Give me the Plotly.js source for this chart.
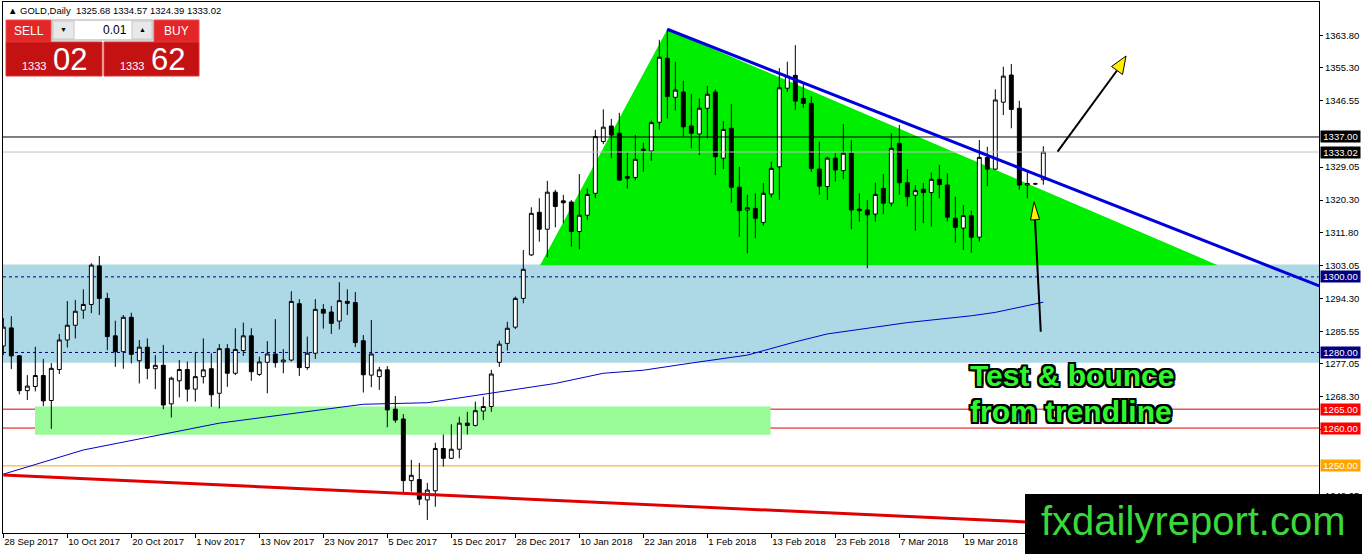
<!DOCTYPE html>
<html><head><meta charset="utf-8">
<script src="https://cdn.plot.ly/plotly-3.0.1.min.js"></script>
<style>html,body{margin:0;padding:0;background:#fff;overflow:hidden}#chart{width:1362px;height:554px}</style>
</head><body><div id="chart"></div>
<script>
// ---- GOLD, Daily candles (bar index 0 = 28 Sep 2017) ----
const openP = [1281.7,1286.5,1279.1,1269.9,1271.0,1273.9,1267.3,1275.5,1283.3,1287.2,
1291.2,1292.7,1302.9,1294.3,1284.4,1280.2,1289.3,1277.8,1281.4,1275.7,
1276.6,1266.4,1272.5,1275.5,1270.3,1273.6,1275.7,1269.2,1281.0,1274.5,
1280.5,1284.4,1274.2,1277.4,1279.6,1277.5,1278.0,1292.9,1276.0,1279.8,
1291.4,1290.7,1288.3,1293.5,1293.2,1283.1,1274.0,1273.6,1275.4,1265.0,
1262.4,1246.1,1246.4,1241.0,1243.4,1254.6,1252.0,1254.4,1261.3,1260.7,
1264.5,1265.7,1277.4,1282.4,1286.7,1294.3,1305.8,1317.1,1312.6,1322.4,
1320.1,1319.8,1312.0,1316.3,1322.1,1335.8,1339.9,1338.0,1326.5,1326.3,
1333.4,1333.3,1340.9,1357.8,1347.5,1348.9,1339.9,1337.8,1344.6,1348.9,
1331.4,1339.3,1323.7,1317.7,1318.1,1314.4,1321.9,1329.1,1349.9,1353.3,
1347.2,1345.9,1328.5,1323.9,1331.4,1328.1,1332.7,1317.9,1317.7,1316.6,
1323.4,1319.5,1335.3,1324.9,1321.6,1323.2,1322.3,1325.8,1324.3,1315.5,
1312.9,1316.2,1310.5,1331.6,1328.5,1346.2,1353.4,1344.6,1324.3,1324.6,
1325.68];
const highP = [1289.1,1289.6,1279.3,1274.0,1281.5,1278.3,1277.2,1284.9,1293.6,1293.9,
1296.7,1303.6,1305.5,1295.8,1288.4,1289.9,1290.5,1283.3,1283.7,1279.3,
1282.0,1273.6,1278.0,1277.6,1279.9,1283.7,1279.8,1282.2,1282.2,1286.4,
1287.9,1286.4,1278.9,1283.0,1288.8,1280.9,1296.2,1294.1,1284.2,1294.1,
1292.8,1292.3,1298.6,1296.7,1296.0,1284.6,1288.6,1276.2,1276.4,1268.5,
1263.7,1251.6,1250.8,1245.5,1256.1,1258.3,1261.0,1263.0,1264.3,1267.0,
1268.3,1275.4,1283.1,1288.1,1294.8,1307.1,1318.4,1320.8,1325.4,1323.0,
1321.7,1320.3,1327.2,1323.4,1338.9,1344.3,1341.8,1343.4,1332.8,1337.5,
1335.5,1341.3,1362.7,1365.5,1356.9,1351.9,1348.4,1347.2,1350.5,1349.6,
1341.2,1345.7,1329.1,1321.7,1322.1,1324.8,1330.5,1355.2,1356.9,1361.3,
1351.2,1347.7,1335.8,1331.8,1332.7,1340.4,1336.2,1322.1,1320.3,1324.9,
1327.2,1338.0,1340.2,1328.5,1324.3,1324.8,1327.6,1329.6,1327.4,1321.2,
1319.0,1317.5,1336.2,1334.4,1349.6,1355.6,1356.3,1346.6,1327.8,1324.9,
1334.57];
const lowP = [1279.3,1275.6,1268.9,1267.4,1269.7,1265.8,1259.8,1274.3,1281.3,1283.7,
1288.9,1290.4,1289.9,1280.6,1276.2,1275.7,1277.1,1271.8,1272.9,1270.3,
1265.0,1262.8,1268.1,1267.0,1267.0,1271.8,1265.6,1265.2,1270.9,1274.0,
1279.1,1272.5,1273.8,1269.2,1276.0,1274.5,1277.6,1273.8,1275.4,1278.3,
1286.3,1284.9,1286.1,1289.9,1281.4,1269.4,1270.8,1270.1,1260.2,1261.4,
1242.9,1243.2,1239.6,1235.7,1239.2,1249.8,1251.8,1252.0,1258.3,1260.4,
1262.1,1264.3,1276.2,1280.5,1286.2,1293.0,1305.5,1309.3,1305.2,1313.1,
1314.2,1308.0,1307.3,1315.0,1320.8,1335.1,1331.4,1325.4,1323.4,1325.6,
1327.8,1330.7,1338.9,1341.9,1344.0,1337.1,1334.0,1332.2,1336.7,1326.9,
1328.5,1319.6,1310.6,1306.2,1310.2,1313.5,1321.0,1320.3,1349.0,1344.1,
1344.6,1327.8,1321.7,1320.3,1325.2,1325.8,1312.6,1314.6,1302.3,1314.6,
1316.6,1318.6,1321.7,1318.6,1312.2,1314.2,1313.3,1320.8,1314.6,1309.0,
1307.1,1306.4,1309.3,1324.0,1328.3,1342.8,1339.3,1323.0,1320.8,1324.3,
1324.39];
const closeP = [1286.7,1279.1,1269.9,1271.1,1273.9,1267.2,1275.8,1283.3,1287.2,1290.9,
1292.7,1303.1,1294.3,1284.2,1280.2,1289.3,1279.5,1281.4,1275.8,1276.6,
1266.1,1273.2,1275.5,1270.3,1273.6,1275.4,1268.8,1281.0,1274.5,1280.8,
1284.4,1274.9,1277.5,1279.6,1277.3,1278.0,1293.5,1276.0,1279.8,1291.4,
1290.4,1287.7,1293.7,1293.0,1282.6,1274.1,1279.6,1275.4,1264.8,1262.1,
1246.1,1247.5,1241.2,1243.6,1254.6,1252.0,1254.4,1261.3,1260.7,1264.6,
1265.7,1274.3,1282.2,1286.4,1294.3,1302.0,1316.8,1312.6,1322.4,1318.6,
1319.6,1312.0,1316.3,1321.8,1337.1,1339.6,1337.5,1325.6,1326.1,1331.1,
1333.8,1340.8,1358.1,1347.7,1349.4,1339.7,1338.0,1344.6,1348.3,1331.8,
1339.0,1323.7,1317.5,1318.3,1315.5,1322.1,1328.7,1350.0,1353.1,1346.5,
1345.9,1328.7,1324.0,1331.4,1328.3,1332.7,1317.7,1317.5,1316.4,1321.8,
1319.5,1334.0,1324.9,1321.2,1322.8,1322.3,1325.8,1324.4,1315.8,1313.1,
1316.2,1310.5,1331.6,1328.5,1346.8,1353.1,1344.3,1324.3,1324.7,1324.6,
1333.02];

// moving average (read at selected bars)
const maBars   = [0, 10, 27, 38, 45, 53, 60, 69, 75, 80, 86, 93, 99, 103, 113, 121, 124, 130];
const maValues = [1247.8,1254.2,1261.3,1264.3,1266.3,1266.7,1269.0,1271.8,1274.5,1275.3,1277.2,1279.3,1282.8,1284.9,1287.9,1289.7,1290.6,1293.3];

// x axis labels
const dateBars   = [0,8,16,24,32,40,48,56,64,72,80,88,96,104,112,120];
const dateLabels = ['28 Sep 2017','10 Oct 2017','20 Oct 2017','1 Nov 2017','13 Nov 2017','23 Nov 2017','5 Dec 2017','15 Dec 2017','28 Dec 2017','10 Jan 2018','22 Jan 2018','1 Feb 2018','13 Feb 2018','23 Feb 2018','7 Mar 2018','19 Mar 2018'];

// y axis labels (those fully hidden under level boxes are left out)
const priceTicks = [1363.80,1355.30,1346.55,1329.05,1320.30,1311.80,1303.05,1294.30,1285.55,1277.05,1268.30,1259.55,1242.05];

// horizontal levels
const levelValues = [1337.00, 1333.02, 1300.00, 1280.00, 1265.00, 1260.00, 1250.00];
const levelColors = ['#000000','#c0c0c0','#000080','#000080','#e00000','#e00000','#ffa500'];
const levelBoxes  = ['#000000','#000000','#000080','#000080','#ff0000','#ff0000','#ffa500'];
const levelDash   = ['solid','solid','3px,3px','3px,3px','solid','solid','solid'];

// zones and drawn objects (bar index, price)
const blueZone  = [1277.3, 1303.3];
const greenZone = [3.96, 95.9, 1258.2, 1265.7];
const triangle  = [[67.1,1303.1],[83.0,1365.5],[151.8,1303.1]];
const trendLine = [[83.0,1365.5],[164.5,1297.6]];
const redLine   = [[0,1247.6],[164.5,1231.6]];

const FONT = 'Liberation Sans, Arial, sans-serif';
const PX = x => (x - 3) / 1316;
const PY = y => (533 - y) / 531;

const shapes = [];
const annotations = [];

// background zones
shapes.push({type:'rect', xref:'paper', yref:'y', x0:0, x1:1, y0:blueZone[0], y1:blueZone[1], fillcolor:'#add8e6', line:{width:0}, layer:'below'});
shapes.push({type:'rect', xref:'x', yref:'y', x0:greenZone[0], x1:greenZone[1], y0:greenZone[2], y1:greenZone[3], fillcolor:'#98fb98', line:{width:0}, layer:'below'});
shapes.push({type:'path', xref:'x', yref:'y', path:'M '+triangle.map(p=>p[0]+','+p[1]).join(' L ')+' Z', fillcolor:'#00ee00', line:{width:0}, layer:'below'});

// horizontal levels
levelValues.forEach((v,i)=>{
  shapes.push({type:'line', xref:'paper', yref:'y', x0:0, x1:1, y0:v, y1:v, line:{color:levelColors[i], width:1, dash:levelDash[i]}, layer: i<2 ? 'above' : 'below'});
  annotations.push({xref:'paper', yref:'y', x:1, y:v, xanchor:'left', yanchor:'middle', xshift:1, text:v.toFixed(2), showarrow:false,
    bgcolor:levelBoxes[i], borderpad:0, width:39, align:'center', font:{family:FONT, size:9.5, color:'#ffffff'}});
});

// trend lines
shapes.push({type:'line', xref:'x', yref:'y', x0:trendLine[0][0], y0:trendLine[0][1], x1:trendLine[1][0], y1:trendLine[1][1], line:{color:'#0000dd', width:3}, layer:'above'});
shapes.push({type:'line', xref:'x', yref:'y', x0:redLine[0][0], y0:redLine[0][1], x1:redLine[1][0], y1:redLine[1][1], line:{color:'#e00000', width:3}, layer:'above'});

// arrows
function arrow(tail, base, head){
  shapes.push({type:'line', xref:'x', yref:'y', x0:tail[0], y0:tail[1], x1:base[0], y1:base[1], line:{color:'#000', width:2}, layer:'above'});
  shapes.push({type:'path', xref:'x', yref:'y', path:'M '+head.map(p=>p[0]+','+p[1]).join(' L ')+' Z', fillcolor:'#ffee00', line:{color:'#000', width:1}, layer:'above'});
}
arrow([131.78,1333.11],[139.21,1354.59],[[140.34,1358.43],[138.53,1355.65],[139.9,1353.53]]);
arrow([129.68,1285.49],[128.96,1315.1],[[128.84,1319.88],[128.4,1315.04],[129.53,1315.17]]);

// text overlays
const outline = '2px 2px 0 #000, -2px -2px 0 #000, 2px -2px 0 #000, -2px 2px 0 #000, 0 2px 0 #000, 2px 0 0 #000, 0 -2px 0 #000, -2px 0 0 #000';
annotations.push({xref:'paper', yref:'paper', x:PX(968), y:PY(375), xanchor:'left', yanchor:'middle', showarrow:false,
  text:'<b>Test &amp; bounce</b>', font:{family:FONT, size:30, color:'#2ef72e', shadow:outline}});
annotations.push({xref:'paper', yref:'paper', x:PX(968), y:PY(411), xanchor:'left', yanchor:'middle', showarrow:false,
  text:'<b>from trendline</b>', font:{family:FONT, size:30, color:'#2ef72e', shadow:outline}});

// watermark box
shapes.push({type:'rect', xref:'paper', yref:'paper', x0:PX(1025), x1:PX(1362), y0:PY(494), y1:PY(554), fillcolor:'#000', line:{width:0}, layer:'above'});
annotations.push({xref:'paper', yref:'paper', x:PX(1193), y:PY(521), xanchor:'center', yanchor:'middle', showarrow:false,
  text:'fxdailyreport.com', font:{family:FONT, size:40, color:'#3bd83b'}});

// header
annotations.push({xref:'paper', yref:'paper', x:PX(6), y:PY(10), xanchor:'left', yanchor:'middle', showarrow:false,
  text:'▲ GOLD,Daily  1325.68 1334.57 1324.39 1333.02', font:{family:FONT, size:9.5, color:'#000'}});

// one-click trading panel
function prect(x0,x1,y0,y1,fill,lc){shapes.push({type:'rect', xref:'paper', yref:'paper', x0:PX(x0), x1:PX(x1), y0:PY(y0), y1:PY(y1), fillcolor:fill, line:{color:lc||fill, width:1}, layer:'above'});}
function ptext(x,y,t,size,color,anchor){annotations.push({xref:'paper', yref:'paper', x:PX(x), y:PY(y), xanchor:anchor||'center', yanchor:'middle', showarrow:false, text:t, font:{family:FONT, size:size, color:color}});}
prect(6,51,20,42,'#e32626','#f05050');
prect(154,199,20,42,'#e32626','#f05050');
prect(52,153,20,40,'#ffffff','#a8a8a8');
prect(53,74,21,39,'#e8e8e8','#c8c8c8');
prect(132,152,21,39,'#e8e8e8','#c8c8c8');
prect(6,102,42,76,'#c41212','#d83030');
prect(104,199,42,76,'#c41212','#d83030');
ptext(28.5,31,'SELL',12,'#fff');
ptext(176.5,31,'BUY',12,'#fff');
ptext(129,30,'0.01',12,'#000','right');
ptext(63.5,30,'▼',7,'#000');
ptext(142,30,'▲',7,'#000');
ptext(20,66,'1333',11,'#fff','left');
ptext(51,59,'02',31,'#fff','left');
ptext(118,66,'1333',11,'#fff','left');
ptext(149,59,'62',31,'#fff','left');

const idx = openP.map((_,i)=>i);
const traces = [
  {type:'candlestick', x:idx, open:openP, high:highP, low:lowP, close:closeP, hoverinfo:'skip', whiskerwidth:0,
   increasing:{line:{color:'#000', width:1}, fillcolor:'#ffffff'},
   decreasing:{line:{color:'#000', width:1}, fillcolor:'#000000'}, showlegend:false},
  {type:'scatter', mode:'lines', x:maBars, y:maValues, line:{color:'#0000c8', width:1}, hoverinfo:'skip', showlegend:false}
];

const layout = {
  width:1362, height:554,
  margin:{l:3, r:43, t:2, b:21},
  paper_bgcolor:'#ffffff', plot_bgcolor:'#ffffff',
  showlegend:false,
  xaxis:{range:[-0.04,164.46], tickvals:dateBars, ticktext:dateLabels, ticks:'outside', ticklen:4, tickcolor:'#000',
    ticklabelposition:'outside right', tickfont:{family:FONT, size:9.5, color:'#000'},
    showline:true, mirror:true, linecolor:'#000', linewidth:1, showgrid:false, zeroline:false, automargin:false,
    rangeslider:{visible:false}, fixedrange:true},
  yaxis:{side:'right', range:[1232.24,1372.71], tickvals:priceTicks, ticktext:priceTicks.map(v=>v.toFixed(2)),
    ticks:'outside', ticklen:3, tickcolor:'#000', tickfont:{family:FONT, size:9.5, color:'#000'},
    showline:true, mirror:true, linecolor:'#000', linewidth:1, showgrid:false, zeroline:false, automargin:false, fixedrange:true},
  shapes:shapes, annotations:annotations
};
Plotly.newPlot('chart', traces, layout, {displayModeBar:false, staticPlot:true});
</script></body></html>
